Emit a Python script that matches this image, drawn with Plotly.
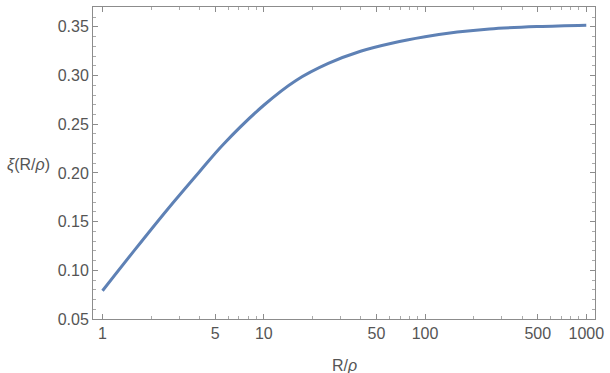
import plotly.graph_objects as go

# Data (x = R/rho, y = xi(R/rho))
r_over_rho = [1, 1.585, 2.512, 3.981, 5.623, 10, 15.85, 25.12, 39.81, 63.1, 100, 158.5, 251.2, 501.2, 1000]
xi_values = [0.079, 0.121, 0.162, 0.201, 0.2295, 0.2695, 0.295, 0.3125, 0.325,
             0.3335, 0.3398, 0.3447, 0.3479, 0.3503, 0.3517]

x_tick_vals = [1, 5, 10, 50, 100, 500, 1000]
x_tick_text = ["1", "5", "10", "50", "100", "500", "1000"]
x_minor_vals = [2, 3, 4, 6, 7, 8, 9, 20, 30, 40, 60, 70, 80, 90, 200, 300, 400, 600, 700, 800, 900]
y_tick_vals = [0.05, 0.10, 0.15, 0.20, 0.25, 0.30, 0.35]
y_tick_text = ["0.05", "0.10", "0.15", "0.20", "0.25", "0.30", "0.35"]
y_minor_vals = [round(0.05 + 0.01 * i, 2) for i in range(33)]

FONT = "Liberation Sans, Arial, sans-serif"

fig = go.Figure()
fig.add_trace(go.Scatter(x=r_over_rho, y=xi_values, mode="lines",
                         line=dict(color="#5E81B5", width=3, shape="spline", smoothing=1.0),
                         hoverinfo="skip", showlegend=False))

axis_common = dict(showgrid=False, zeroline=False, showline=True, linecolor="#8c8c8c", linewidth=1,
                   mirror="allticks", ticks="inside", tickcolor="#8c8c8c", ticklen=5, tickwidth=1,
                   tickfont=dict(family=FONT, size=16, color="#555555"))

fig.update_layout(
    width=610, height=373,
    margin=dict(l=93, r=11, t=6, b=54),
    paper_bgcolor="white", plot_bgcolor="white",
    xaxis=dict(type="log", range=[-0.059, 3.054], tickmode="array", tickvals=x_tick_vals,
               ticktext=x_tick_text,
               minor=dict(tickmode="array", tickvals=x_minor_vals, ticks="inside", ticklen=3,
                          tickcolor="#aaaaaa", showgrid=False),
               **axis_common),
    yaxis=dict(range=[0.05, 0.3704], tickmode="array", tickvals=y_tick_vals, ticktext=y_tick_text,
               minor=dict(tickmode="array", tickvals=y_minor_vals, ticks="inside", ticklen=3,
                          tickcolor="#aaaaaa", showgrid=False),
               **axis_common),
    annotations=[
        dict(text="<i>ξ</i>(R/<i>ρ</i>)", xref="paper", yref="paper", x=-0.176, y=0.492,
             xanchor="left", yanchor="middle", showarrow=False,
             font=dict(family=FONT, size=16, color="#555555")),
        dict(text="R/<i>ρ</i>", xref="paper", yref="paper", x=0.5, y=-0.115,
             xanchor="center", yanchor="top", showarrow=False,
             font=dict(family=FONT, size=16, color="#555555")),
    ],
)

fig.write_html("out.html", config={"displayModeBar": False},
               post_script="document.body.style.margin='0';")
